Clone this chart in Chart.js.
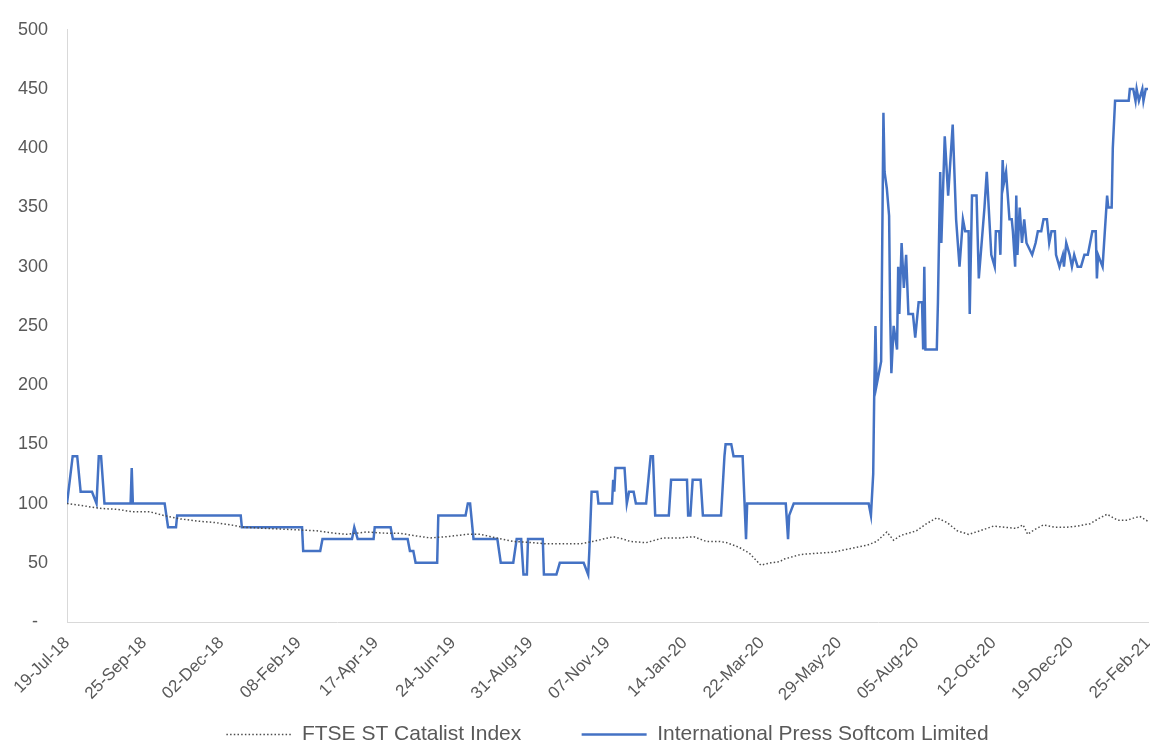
<!DOCTYPE html>
<html>
<head>
<meta charset="utf-8">
<script src="https://cdn.jsdelivr.net/npm/chart.js@4.4.1/dist/chart.umd.min.js"></script>
<style>
    html, body { margin: 0; padding: 0; background: #ffffff; }
    #Line__canvas_1 { display: block; }
</style>
</head>
<body>
<canvas id="Line__canvas_1" width="1150" height="743"></canvas>
<script>
// x values are days counted from 19-Jul-18
var xTickLabels = ['19-Jul-18', '25-Sep-18', '02-Dec-18', '08-Feb-19', '17-Apr-19', '24-Jun-19', '31-Aug-19',
    '07-Nov-19', '14-Jan-20', '22-Mar-20', '29-May-20', '05-Aug-20', '12-Oct-20', '19-Dec-20', '25-Feb-21'];
var lastDay = 952;

var ipsDays = [0, 5, 9, 12, 22, 26, 28, 30, 33, 56, 57, 58, 86, 89, 96, 97, 153, 154, 207, 208, 223, 225,
    251, 253, 256, 270, 271, 285, 287, 300, 302, 305, 307, 326, 327, 351, 353, 355, 358, 379, 382, 393,
    396, 400, 402, 405, 406, 419, 420, 431, 434, 455, 459, 460, 462, 467, 468, 480, 481, 482, 483, 491,
    493, 495, 499, 501, 510, 514, 516, 518, 530, 532, 546, 547, 549, 551, 558, 560, 576, 579, 580, 585,
    587, 595, 598, 599, 633, 635, 636, 640, 706, 708, 710, 711, 712, 713, 715, 717, 719, 720, 722, 724,
    725, 726, 728, 731, 732, 733, 735, 737, 739, 741, 745, 747, 750, 753, 754, 755, 756, 766, 767, 769,
    770, 773, 776, 780, 783, 786, 789, 791, 794, 795, 797, 801, 803, 808, 810, 814, 817, 818, 821, 822,
    824, 825, 827, 830, 832, 833, 835, 836, 837, 839, 841, 843, 845, 850, 853, 855, 858, 860, 863, 865,
    867, 870, 871, 874, 877, 878, 880, 883, 885, 887, 890, 893, 896, 899, 901, 903, 906, 907, 908, 912,
    916, 917, 920, 921, 923, 935, 936, 939, 941, 942, 944, 947, 948, 950, 952];
var ipsValues = [100, 140, 140, 110, 110, 100, 140, 140, 100, 100, 130, 100, 100, 80, 80, 90, 90, 80, 80, 60, 60, 70,
    70, 80, 70, 70, 80, 80, 70, 70, 60, 60, 50, 50, 90, 90, 100, 100, 70, 70, 50, 50,
    70, 70, 40, 40, 70, 70, 40, 40, 50, 50, 40, 60, 110, 110, 100, 100, 120, 110, 130, 130,
    100, 110, 110, 100, 100, 140, 140, 90, 90, 120, 120, 90, 90, 120, 120, 90, 90, 140, 150, 150,
    140, 140, 70, 100, 100, 70, 90, 100, 100, 90, 125, 200, 250, 200, 210, 220, 430, 380, 366, 343,
    256, 210, 250, 230, 300, 260, 320, 282, 310, 260, 260, 240, 270, 270, 230, 300, 230, 230, 270, 380,
    320, 410, 360, 420, 340, 300, 340, 330, 330, 260, 360, 360, 290, 350, 380, 310, 300, 330, 330, 310,
    390, 370, 380, 340, 340, 330, 300, 360, 310, 350, 320, 340, 320, 310, 320, 330, 330, 340, 340, 320,
    330, 330, 310, 300, 310, 300, 320, 310, 300, 310, 300, 300, 310, 310, 320, 330, 330, 290, 310, 300,
    360, 350, 350, 400, 440, 440, 450, 450, 440, 450, 440, 450, 440, 450, 450];

var ftseDays = [0, 15, 29, 45, 58, 73, 85, 100, 117, 130, 144, 155, 176, 199, 220, 235, 246, 255, 264, 280,
    293, 305, 320, 334, 352, 364, 378, 393, 410, 422, 440, 452, 463, 472, 481, 490, 496, 510, 525, 540,
    552, 563, 575, 581, 592, 601, 611, 620, 628, 631, 646, 660, 675, 685, 695, 705, 713, 722, 728, 734,
    748, 757, 766, 775, 784, 794, 804, 816, 826, 836, 842, 846, 852, 860, 870, 880, 890, 901, 908, 916,
    925, 934, 940, 945, 952];
var ftseValues = [100, 98, 96, 95, 93, 93, 90, 87, 85, 84, 82, 80, 79, 78, 77, 75, 74, 75, 76, 75,
    75, 73, 71, 72, 74, 74, 71, 68, 67, 66, 66, 66, 68, 70, 72, 70, 68, 67, 71, 71,
    72, 68, 68, 67, 63, 58, 48, 50, 51, 53, 57, 58, 59, 61, 63, 65, 68, 76, 69, 73,
    77, 83, 88, 84, 77, 74, 77, 81, 80, 79, 82, 74, 78, 82, 80, 80, 81, 83, 87, 91,
    86, 86, 88, 89, 85];

var seriesNames = ['FTSE ST Catalist Index', 'International Press Softcom Limited'];

var textGrey = '#595959';
var axisGrey = '#d9d9d9';
var fontFamily = "'Liberation Sans', Arial, sans-serif";

$ = function (id) { return document.getElementById(id); };

function toPoints(days, values) {
    return days.map(function (d, i) { return { x: d, y: values[i] }; });
}

function Line_Status_1() {
    var ctr = $('Line__canvas_1');
    var line = new Chart(ctr, {
        type: 'line',
        data: {
            datasets: [{
                label: seriesNames[0],
                data: toPoints(ftseDays, ftseValues),
                borderColor: '#4d4d4d',
                borderWidth: 1.5,
                borderDash: [1.5, 2.2],
                pointRadius: 0,
                tension: 0,
                fill: false,
            }, {
                label: seriesNames[1],
                data: toPoints(ipsDays, ipsValues),
                borderColor: '#4472c4',
                borderWidth: 2.5,
                pointRadius: 0,
                tension: 0,
                fill: false,
            }],
        },
        options: {
            responsive: false,
            animation: false,
            layout: {
                padding: { top: 28, right: 2, left: 0, bottom: -12 }
            },
            plugins: {
                tooltip: { enabled: false },
                legend: {
                    position: 'bottom',
                    fullSize: false,
                    labels: {
                        usePointStyle: true,
                        pointStyle: 'line',
                        pointStyleWidth: 65,
                        color: textGrey,
                        padding: 2,
                        font: { family: fontFamily, size: 21 },
                        generateLabels: function (chart) {
                            var items = Chart.defaults.plugins.legend.labels.generateLabels(chart);
                            items.forEach(function (item, i) {
                                var ds = chart.data.datasets[i];
                                item.strokeStyle = ds.borderColor;
                                item.lineWidth = ds.borderWidth;
                                item.lineDash = ds.borderDash || [];
                            });
                            // wider gap between the two entries
                            items[0].text = items[0].text + '          ';
                            return items;
                        }
                    }
                }
            },
            scales: {
                x: {
                    type: 'linear',
                    min: 0,
                    max: lastDay,
                    grid: { display: false, drawTicks: false },
                    border: { display: true, color: axisGrey, width: 1 },
                    ticks: {
                        stepSize: 68,
                        autoSkip: false,
                        minRotation: 45,
                        maxRotation: 45,
                        padding: 11,
                        color: textGrey,
                        font: { family: fontFamily, size: 17 },
                        callback: function (value, index) {
                            return xTickLabels[index];
                        }
                    },
                    afterFit: function (scale) {
                        scale.height = 100;
                        scale.paddingRight = 0;
                    }
                },
                y: {
                    min: 0,
                    max: 500,
                    grid: { display: false, drawTicks: false },
                    border: { display: true, color: axisGrey, width: 1 },
                    ticks: {
                        stepSize: 50,
                        padding: 19,
                        color: textGrey,
                        font: { family: fontFamily, size: 18 },
                        callback: function (value) {
                            return value === 0 ? '-  ' : value;
                        }
                    },
                    afterFit: function (scale) {
                        scale.width = 67;
                    }
                }
            }
        }
    });
}

Line_Status_1();
</script>
</body>
</html>
